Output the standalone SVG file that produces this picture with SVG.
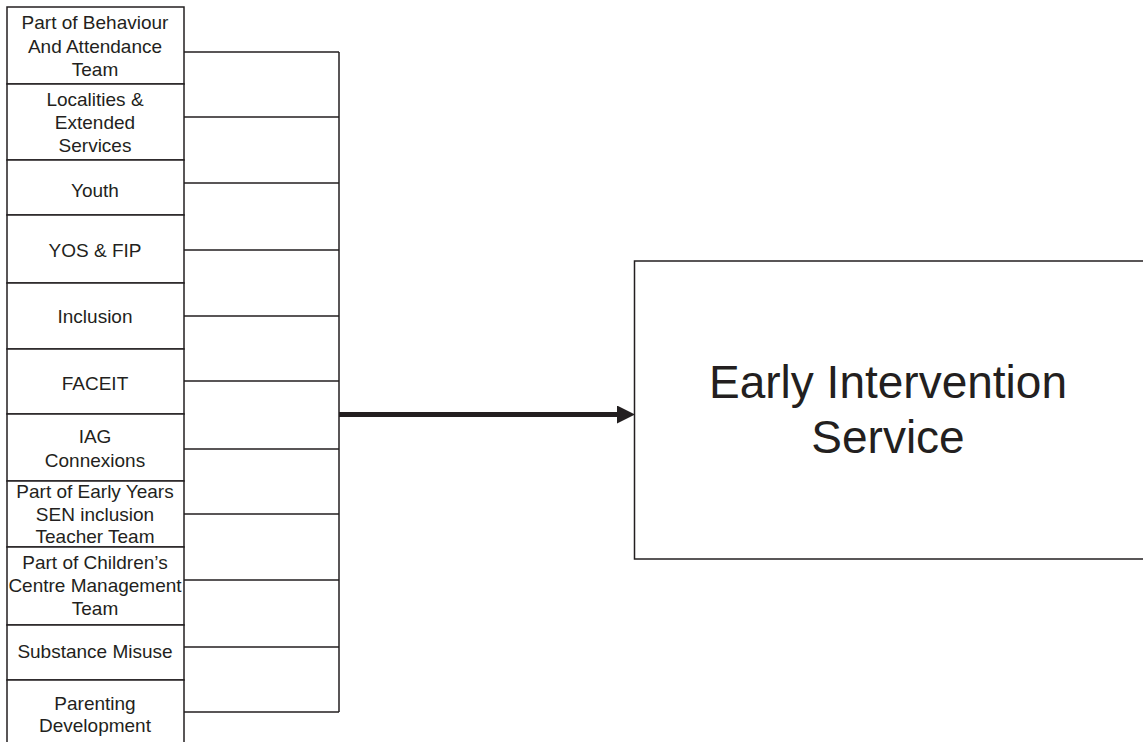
<svg xmlns="http://www.w3.org/2000/svg" width="1143" height="742" viewBox="0 0 1143 742">
<style>
.box{fill:#fff;stroke:#231f20;stroke-width:1.5}
.lbl{font-family:"Liberation Sans",Arial,sans-serif;font-size:19px;fill:#231f20;text-anchor:middle}
.big{font-family:"Liberation Sans",Arial,sans-serif;font-size:46px;fill:#231f20;text-anchor:middle}
.con{fill:none;stroke:#231f20;stroke-width:1.5}
.arr{fill:none;stroke:#231f20;stroke-width:5}
</style>
<defs>
<marker id="ah" markerUnits="userSpaceOnUse" markerWidth="18" markerHeight="18" refX="3" refY="9" orient="auto">
<path d="M0,0 L18,9 L0,18 Z" fill="#231f20"/>
</marker>
</defs>
<rect width="1143" height="742" fill="#fff"/>
<g id="connectors">
<path class="con" d="M184,52H339M184,117H339M184,183H339M184,250H339M184,316H339M184,381H339M184,449H339M184,514H339M184,580H339M184,647H339M184,712H339M339,52V712"/>
<path class="arr" d="M339,414.5H620" marker-end="url(#ah)"/>
</g>
<g id="n1"><rect class="box" x="7" y="7" width="177" height="77"/><text class="lbl" x="95" y="29">Part of Behaviour</text><text class="lbl" x="95" y="53">And Attendance</text><text class="lbl" x="95" y="76">Team</text></g>
<g id="n2"><rect class="box" x="7" y="84" width="177" height="76"/><text class="lbl" x="95" y="106">Localities &amp;</text><text class="lbl" x="95" y="129">Extended</text><text class="lbl" x="95" y="152">Services</text></g>
<g id="n3"><rect class="box" x="7" y="160" width="177" height="55"/><text class="lbl" x="95" y="197">Youth</text></g>
<g id="n4"><rect class="box" x="7" y="215" width="177" height="68"/><text class="lbl" x="95" y="257">YOS &amp; FIP</text></g>
<g id="n5"><rect class="box" x="7" y="283" width="177" height="66"/><text class="lbl" x="95" y="323">Inclusion</text></g>
<g id="n6"><rect class="box" x="7" y="349" width="177" height="65"/><text class="lbl" x="95" y="390">FACEIT</text></g>
<g id="n7"><rect class="box" x="7" y="414" width="177" height="67"/><text class="lbl" x="95" y="443">IAG</text><text class="lbl" x="95" y="467">Connexions</text></g>
<g id="n8"><rect class="box" x="7" y="481" width="177" height="66"/><text class="lbl" x="95" y="498">Part of Early Years</text><text class="lbl" x="95" y="521">SEN inclusion</text><text class="lbl" x="95" y="543">Teacher Team</text></g>
<g id="n9"><rect class="box" x="7" y="547" width="177" height="78"/><text class="lbl" x="95" y="569">Part of Children’s</text><text class="lbl" x="95" y="592">Centre Management</text><text class="lbl" x="95" y="615">Team</text></g>
<g id="n10"><rect class="box" x="7" y="625" width="177" height="55"/><text class="lbl" x="95" y="658">Substance Misuse</text></g>
<g id="n11"><rect class="box" x="7" y="680" width="177" height="80"/><text class="lbl" x="95" y="710">Parenting</text><text class="lbl" x="95" y="732">Development</text></g>
<g id="eis"><rect class="box" x="634.5" y="261" width="520" height="298"/><text class="big" x="888" y="398">Early Intervention</text><text class="big" x="888" y="453">Service</text></g>
</svg>
